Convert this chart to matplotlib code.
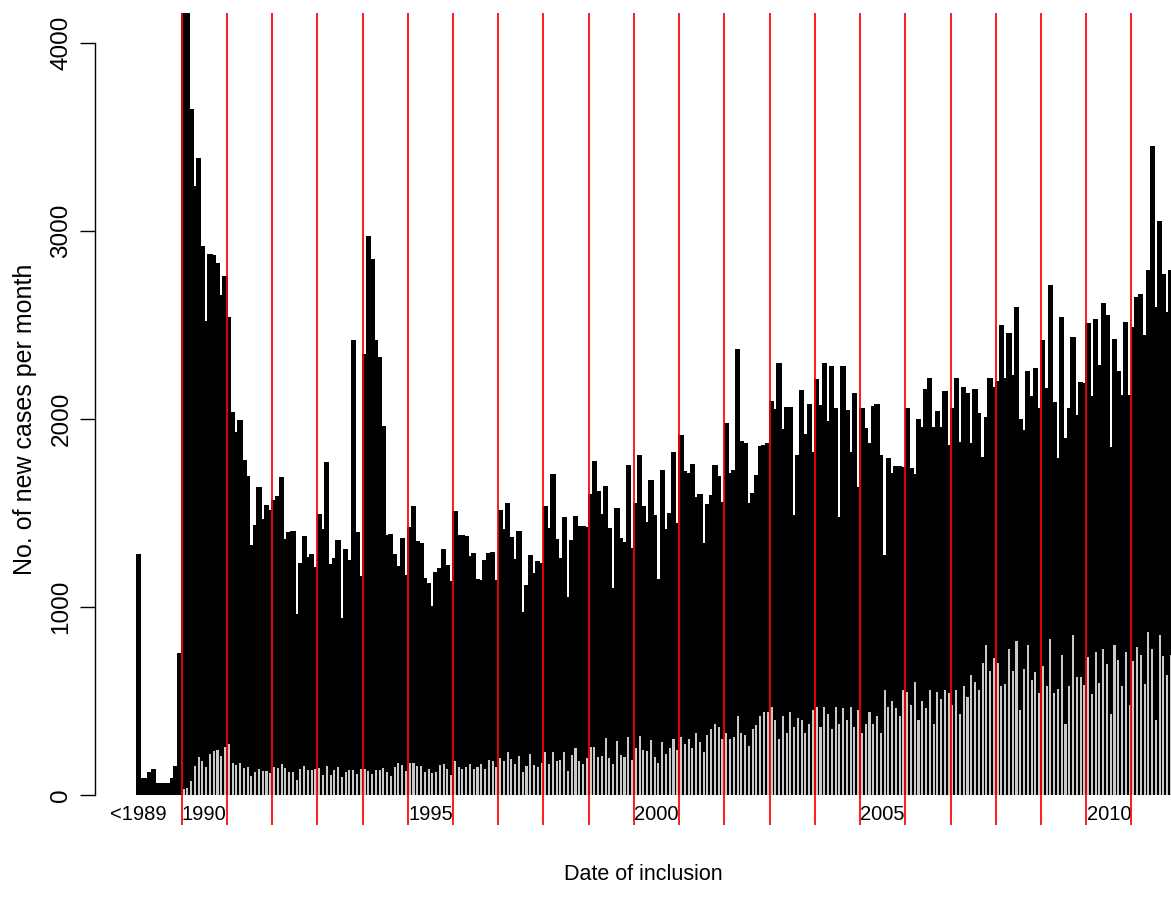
import numpy as np
import matplotlib
matplotlib.use("Agg")
import matplotlib.pyplot as plt

# ---------------- data ----------------
pre_labels = ["<1989"]
pre_total = [1280, 89, 89, 124, 138, 66, 62, 62, 62, 89, 156, 755]

total_1990 = [4500, 4400, 3650, 3240, 3390, 2920, 2520, 2880, 2875, 2830, 2660, 2760]
total_1991 = [2540, 2038, 1929, 1994, 1780, 1695, 1329, 1434, 1637, 1468, 1544, 1514]
total_1992 = [1571, 1588, 1689, 1361, 1399, 1405, 960, 1232, 1377, 1266, 1283, 1211]
total_1993 = [1497, 1413, 1769, 1230, 1262, 1358, 940, 1308, 1251, 2419, 1399, 1167]
total_1994 = [2346, 2973, 2853, 2419, 2329, 1961, 1384, 1388, 1281, 1220, 1367, 1169]
total_1995 = [1428, 1535, 1353, 1338, 1152, 1127, 1003, 1186, 1209, 1310, 1224, 1138]
total_1996 = [1510, 1384, 1382, 1380, 1272, 1287, 1148, 1144, 1251, 1285, 1293, 1146]
total_1997 = [1516, 1417, 1555, 1371, 1255, 1406, 973, 1118, 1275, 1179, 1243, 1232]
total_1998 = [1536, 1420, 1710, 1362, 1261, 1479, 1051, 1358, 1483, 1431, 1429, 1426]
total_1999 = [1602, 1777, 1618, 1495, 1644, 1420, 1101, 1525, 1369, 1346, 1754, 1312]
total_2000 = [1555, 1809, 1536, 1450, 1674, 1490, 1148, 1728, 1417, 1498, 1825, 1445]
total_2001 = [1917, 1726, 1711, 1763, 1586, 1602, 1340, 1550, 1596, 1756, 1697, 1557]
total_2002 = [1978, 1713, 1731, 2375, 1883, 1870, 1552, 1608, 1704, 1855, 1864, 1871]
total_2003 = [2098, 2051, 2299, 1948, 2064, 2064, 1491, 1809, 2155, 1922, 2081, 1825]
total_2004 = [2214, 2075, 2299, 1990, 2280, 2060, 1480, 2280, 2050, 1823, 2140, 1637]
total_2005 = [2060, 1950, 1870, 2070, 2080, 1810, 1278, 1793, 1715, 1749, 1749, 1743]
total_2006 = [2060, 1740, 1710, 2000, 1960, 2160, 2220, 1960, 2040, 1960, 2150, 1860]
total_2007 = [2060, 2220, 1880, 2170, 2140, 1870, 2160, 2030, 1800, 2010, 2220, 2170]
total_2008 = [2200, 2498, 2219, 2455, 2233, 2596, 2000, 1940, 2253, 2125, 2272, 2060]
total_2009 = [2420, 2166, 2715, 2090, 1790, 2544, 1900, 2060, 2438, 2020, 2198, 2189]
total_2010 = [2510, 2122, 2534, 2288, 2615, 2553, 1850, 2425, 2255, 2127, 2516, 2129]
total_2011 = [2491, 2651, 2663, 2445, 2791, 3453, 2597, 3056, 2771, 2569, 2791]

sub_1990 = [32, 36, 75, 154, 200, 181, 147, 217, 234, 241, 208, 257]
sub_1991 = [270, 169, 158, 170, 142, 146, 103, 122, 138, 129, 129, 117]
sub_1992 = [149, 142, 167, 142, 124, 124, 82, 137, 154, 131, 131, 138]
sub_1993 = [143, 106, 154, 108, 133, 149, 98, 122, 130, 135, 110, 140]
sub_1994 = [140, 125, 110, 130, 135, 145, 120, 100, 150, 170, 160, 128]
sub_1995 = [170, 169, 153, 156, 124, 138, 117, 123, 160, 165, 138, 107]
sub_1996 = [181, 147, 137, 146, 163, 138, 147, 163, 140, 185, 181, 149]
sub_1997 = [195, 178, 229, 192, 162, 209, 121, 153, 217, 160, 149, 169]
sub_1998 = [227, 165, 229, 181, 185, 229, 126, 211, 250, 183, 165, 194]
sub_1999 = [256, 257, 202, 206, 302, 197, 163, 288, 213, 204, 309, 186]
sub_2000 = [250, 311, 238, 234, 290, 200, 170, 280, 220, 250, 300, 240]
sub_2001 = [310, 270, 300, 250, 330, 280, 230, 320, 350, 380, 360, 300]
sub_2002 = [330, 300, 310, 420, 330, 320, 260, 350, 370, 420, 440, 440]
sub_2003 = [470, 400, 300, 420, 330, 440, 360, 410, 400, 330, 380, 450]
sub_2004 = [470, 360, 470, 430, 350, 470, 380, 460, 400, 470, 360, 450]
sub_2005 = [330, 380, 440, 380, 420, 330, 560, 470, 500, 460, 420, 560]
sub_2006 = [550, 480, 600, 400, 500, 460, 560, 380, 550, 510, 560, 540]
sub_2007 = [480, 560, 430, 580, 520, 640, 600, 560, 700, 800, 660, 730]
sub_2008 = [700, 577, 591, 776, 657, 817, 451, 668, 795, 613, 653, 541]
sub_2009 = [685, 579, 827, 541, 565, 744, 380, 581, 852, 628, 625, 586]
sub_2010 = [735, 536, 762, 595, 774, 694, 428, 797, 717, 581, 763, 478]
sub_2011 = [715, 787, 746, 591, 866, 776, 399, 850, 740, 639, 747]

years = list(range(1990, 2012))
label_years = [1990, 1995, 2000, 2005, 2010]
yticks = [0, 1000, 2000, 3000, 4000]

g = globals()
monthly_total = [v for y in years for v in g["total_%d" % y]]
monthly_sub = [v for y in years for v in g["sub_%d" % y]]

# ---------------- plot ----------------
plt.rcParams["font.family"] = ["Liberation Sans", "DejaVu Sans"]
fig = plt.figure(figsize=(11.71, 9.09), dpi=100)
ax = fig.add_axes([95 / 1171, 1 - 825 / 909, 1 - 95 / 1171, (825 - 13) / 909])

n_pre = len(pre_total)
x_pre = np.arange(n_pre)
x_m = n_pre + np.arange(len(monthly_total))
x_s = n_pre + np.arange(len(monthly_sub))

ax.bar(x_pre, pre_total, width=1.4, color="black", linewidth=0)
ax.bar(x_m, monthly_total, width=1.4, color="black", linewidth=0)
ax.bar(x_s, monthly_sub, width=0.55, color="#C8C8C8", linewidth=0)

for i, y in enumerate(years):
    ax.axvline(n_pre - 0.5 + 12 * i, color="#FF0000", lw=1.25, zorder=5)

ax.set_xlim(-11.5, 274.0)
ax.set_ylim(-160, 4160)

# axes styling (R-like)
for s in ["top", "right", "bottom"]:
    ax.spines[s].set_visible(False)
ax.spines["left"].set_bounds(0, 4000)
ax.spines["left"].set_linewidth(1.0)
ax.set_yticks(yticks)
ax.set_yticklabels([str(t) for t in yticks], rotation=90, va="center")
ax.tick_params(axis="y", length=10.8, width=1.0, labelsize=17.5, pad=5.5)
ax.set_xticks([])

# x labels inside plot region
ax.text(0, -106, pre_labels[0], ha="center", va="center", fontsize=14.5)
for yr in label_years:
    xi = n_pre + 12 * (yr - 1990) + 5.5
    ax.text(xi, -106, str(yr), ha="center", va="center", fontsize=14.5)

fig.text(25 / 1171, 1 - 419 / 909, "No. of new cases per month", rotation=90,
         ha="center", va="center", fontsize=18)
fig.text(643 / 1171, 1 - 875 / 909, "Date of inclusion", ha="center", va="center",
         fontsize=15.5)

fig.savefig("out.png", dpi=100)
